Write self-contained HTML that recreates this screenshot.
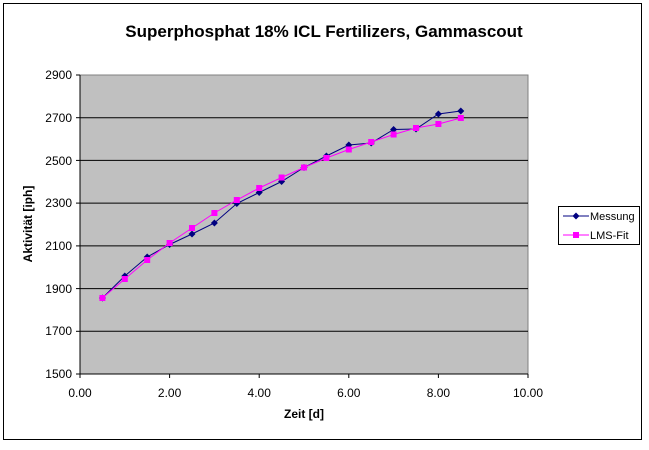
<!DOCTYPE html>
<html><head><style>body{margin:0;background:#fff}svg text{font-family:"Liberation Sans",Arial,sans-serif}</style></head><body>
<svg width="649" height="445" xmlns="http://www.w3.org/2000/svg">
<rect x="0" y="0" width="649" height="445" fill="#fff"/>
<rect x="3.5" y="3.5" width="638" height="436" fill="none" stroke="#000" stroke-width="1"/>
<text x="324" y="37" font-size="17" font-weight="bold" text-anchor="middle">Superphosphat 18% ICL Fertilizers, Gammascout</text>
<rect x="80" y="75" width="448" height="299" fill="#c0c0c0" stroke="#808080"/>
<g stroke="#000" stroke-width="1">
<line x1="80" y1="117.7" x2="528" y2="117.7"/><line x1="80" y1="160.4" x2="528" y2="160.4"/>
<line x1="80" y1="203.1" x2="528" y2="203.1"/><line x1="80" y1="245.9" x2="528" y2="245.9"/>
<line x1="80" y1="288.6" x2="528" y2="288.6"/><line x1="80" y1="331.3" x2="528" y2="331.3"/>
<line x1="80" y1="75" x2="80" y2="374"/><line x1="80" y1="374" x2="528" y2="374"/>
<line x1="76" y1="75" x2="80" y2="75"/><line x1="76" y1="117.7" x2="80" y2="117.7"/><line x1="76" y1="160.4" x2="80" y2="160.4"/><line x1="76" y1="203.1" x2="80" y2="203.1"/><line x1="76" y1="245.9" x2="80" y2="245.9"/><line x1="76" y1="288.6" x2="80" y2="288.6"/><line x1="76" y1="331.3" x2="80" y2="331.3"/><line x1="76" y1="374" x2="80" y2="374"/>
<line x1="80" y1="374" x2="80" y2="378"/><line x1="169.6" y1="374" x2="169.6" y2="378"/><line x1="259.2" y1="374" x2="259.2" y2="378"/><line x1="348.8" y1="374" x2="348.8" y2="378"/><line x1="438.4" y1="374" x2="438.4" y2="378"/><line x1="528" y1="374" x2="528" y2="378"/>
</g>
<g font-size="12" text-anchor="end">
<text x="72" y="79">2900</text><text x="72" y="122">2700</text><text x="72" y="165">2500</text><text x="72" y="207">2300</text><text x="72" y="250">2100</text><text x="72" y="293">1900</text><text x="72" y="335">1700</text><text x="72" y="378">1500</text>
</g>
<g font-size="12" text-anchor="middle">
<text x="80" y="397">0.00</text><text x="169.6" y="397">2.00</text><text x="259.2" y="397">4.00</text><text x="348.8" y="397">6.00</text><text x="438.4" y="397">8.00</text><text x="528" y="397">10.00</text>
</g>
<text x="304" y="418" font-size="12" font-weight="bold" text-anchor="middle">Zeit [d]</text>
<text transform="translate(32,224) rotate(-90)" font-size="12" font-weight="bold" text-anchor="middle">Aktivität [iph]</text>
<polyline fill="none" stroke="#000080" stroke-width="1" points="102.4,298 124.8,276 147.2,257 169.6,244.5 192,234 214.4,223 236.8,203.5 259.2,192.5 281.6,181.5 304,167.5 326.4,156 348.8,145 371.2,143 393.6,129.5 416,129 438.4,114 460.8,111"/>
<g fill="#000080">
<path d="M102.4,294.5l3.5,3.5-3.5,3.5-3.5-3.5z"/><path d="M124.8,272.5l3.5,3.5-3.5,3.5-3.5-3.5z"/><path d="M147.2,253.5l3.5,3.5-3.5,3.5-3.5-3.5z"/><path d="M169.6,241l3.5,3.5-3.5,3.5-3.5-3.5z"/><path d="M192,230.5l3.5,3.5-3.5,3.5-3.5-3.5z"/><path d="M214.4,219.5l3.5,3.5-3.5,3.5-3.5-3.5z"/><path d="M236.8,200l3.5,3.5-3.5,3.5-3.5-3.5z"/><path d="M259.2,189l3.5,3.5-3.5,3.5-3.5-3.5z"/><path d="M281.6,178l3.5,3.5-3.5,3.5-3.5-3.5z"/><path d="M304,164l3.5,3.5-3.5,3.5-3.5-3.5z"/><path d="M326.4,152.5l3.5,3.5-3.5,3.5-3.5-3.5z"/><path d="M348.8,141.5l3.5,3.5-3.5,3.5-3.5-3.5z"/><path d="M371.2,139.5l3.5,3.5-3.5,3.5-3.5-3.5z"/><path d="M393.6,126l3.5,3.5-3.5,3.5-3.5-3.5z"/><path d="M416,125.5l3.5,3.5-3.5,3.5-3.5-3.5z"/><path d="M438.4,110.5l3.5,3.5-3.5,3.5-3.5-3.5z"/><path d="M460.8,107.5l3.5,3.5-3.5,3.5-3.5-3.5z"/>
</g>
<polyline fill="none" stroke="#ff00ff" stroke-width="1" points="102.4,298 124.8,279 147.2,260 169.6,243 192,228 214.4,213 236.8,200 259.2,188 281.6,177.5 304,167.5 326.4,158 348.8,149.5 371.2,142 393.6,134.5 416,128 438.4,124 460.8,118"/>
<g fill="#ff00ff">
<rect x="99.4" y="295" width="6" height="6"/><rect x="121.8" y="276" width="6" height="6"/><rect x="144.2" y="257" width="6" height="6"/><rect x="166.6" y="240" width="6" height="6"/><rect x="189" y="225" width="6" height="6"/><rect x="211.4" y="210" width="6" height="6"/><rect x="233.8" y="197" width="6" height="6"/><rect x="256.2" y="185" width="6" height="6"/><rect x="278.6" y="174.5" width="6" height="6"/><rect x="301" y="164.5" width="6" height="6"/><rect x="323.4" y="155" width="6" height="6"/><rect x="345.8" y="146.5" width="6" height="6"/><rect x="368.2" y="139" width="6" height="6"/><rect x="390.6" y="131.5" width="6" height="6"/><rect x="413" y="125" width="6" height="6"/><rect x="435.4" y="121" width="6" height="6"/><rect x="457.8" y="115" width="6" height="6"/>
</g>
<rect x="558.5" y="206.5" width="81" height="38" fill="#fff" stroke="#000"/>
<line x1="563" y1="216" x2="589" y2="216" stroke="#000080"/><path d="M576,212.5l3.5,3.5-3.5,3.5-3.5-3.5z" fill="#000080"/>
<line x1="563" y1="235" x2="589" y2="235" stroke="#ff00ff"/><rect x="573" y="232" width="6" height="6" fill="#ff00ff"/>
<text x="590" y="220" font-size="11">Messung</text>
<text x="590" y="239" font-size="11">LMS-Fit</text>
</svg>
</body></html>
